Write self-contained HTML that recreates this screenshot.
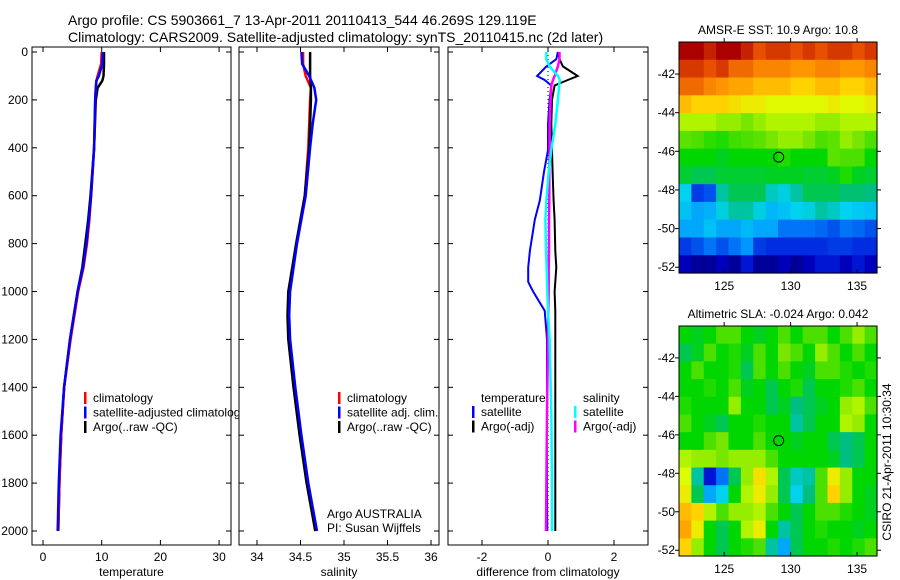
<!DOCTYPE html>
<html><head><meta charset="utf-8">
<style>
html,body{margin:0;padding:0;background:#fff;}
svg{display:block;font-family:"Liberation Sans",sans-serif;}
text{fill:#000;}
</style></head>
<body>
<svg id="fig" width="900" height="580" viewBox="0 0 900 580" xmlns="http://www.w3.org/2000/svg">
<text x="68" y="25" font-size="14">Argo profile: CS 5903661_7 13-Apr-2011 20110413_544 46.269S 129.119E</text>
<text x="68" y="42" font-size="14">Climatology: CARS2009. Satellite-adjusted climatology: synTS_20110415.nc (2d later)</text>
<g id="layers"></g>
</svg>
<script>
// ---------- data ----------
const tDepth = [0,50,100,120,150,200,400,600,700,800,900,1000,1200,1400,1600,1800,2000];
const tClim  = [10.0,9.9,9.3,9.1,9.0,8.9,8.7,8.2,7.9,7.5,6.9,6.0,4.7,3.6,3.1,2.8,2.6];
const tSat   = [10.2,10.1,9.5,9.1,9.0,8.9,8.7,8.2,7.8,7.4,6.8,5.9,4.6,3.6,3.0,2.7,2.5];
const tArgo  = [10.4,10.4,10.3,10.1,9.3,9.0,8.7,8.1,7.7,7.2,6.7,5.9,4.6,3.6,3.1,2.8,2.6];
const sDepth = [0,50,100,150,200,300,400,600,800,1000,1100,1200,1400,1600,1800,2000];
const sClim  = [34.53,34.53,34.56,34.62,34.61,34.60,34.59,34.55,34.45,34.37,34.36,34.37,34.43,34.50,34.58,34.67];
const sSat   = [34.51,34.52,34.60,34.66,34.68,34.64,34.61,34.56,34.46,34.38,34.37,34.38,34.44,34.51,34.59,34.69];
const sArgo  = [34.61,34.61,34.61,34.62,34.62,34.61,34.60,34.55,34.45,34.36,34.35,34.36,34.42,34.49,34.57,34.67];
const dDepth = [0,30,60,100,117,140,200,300,410,500,620,700,830,900,960,1000,1080,1200,1500,1800,2000];
const dTSat  = [0.30,0.25,-0.05,-0.33,-0.10,0.10,0.05,0.00,0.00,-0.12,-0.25,-0.40,-0.55,-0.60,-0.60,-0.45,-0.10,-0.03,-0.03,-0.03,-0.02];
const dTArgo = [0.30,0.35,0.45,0.90,0.60,0.20,0.12,0.10,0.12,0.14,0.17,0.20,0.22,0.25,0.22,0.20,0.22,0.22,0.22,0.22,0.22];
const dSSat  = [-0.05,-0.05,0.05,0.30,0.36,0.34,0.30,0.22,0.10,0.02,-0.05,-0.08,-0.06,-0.04,-0.03,-0.02,0.00,0.05,0.10,0.12,0.12];
const dSArgo = [0.35,0.35,0.30,0.20,0.15,0.10,0.08,0.05,0.05,0.04,0.04,0.03,0.03,0.02,0.02,0.02,0.01,0.00,-0.03,-0.05,-0.06];
const depthTicks = [0,200,400,600,800,1000,1200,1400,1600,1800,2000];
const tTicks = [0,10,20,30];
const sTicks = [34,34.5,35,35.5,36];
const dTicks = [-2,0,2];
const lonTicks = [125,130,135];
const latTicks = [-42,-44,-46,-48,-50,-52];
const argoLon = 129.1, argoLat = -46.3;
const sstGrid = [
[.95,.95,.92,.95,.95,.92,.88,.9,.9,.88,.9,.88,.9,.9,.88,.9],
[.9,.9,.88,.9,.85,.85,.82,.82,.82,.8,.8,.82,.82,.8,.8,.82],
[.85,.85,.82,.8,.78,.78,.75,.75,.75,.72,.72,.75,.75,.72,.72,.75],
[.75,.72,.72,.72,.7,.68,.68,.66,.66,.66,.66,.66,.68,.66,.66,.68],
[.62,.62,.62,.6,.6,.58,.6,.62,.62,.62,.62,.6,.6,.62,.62,.62],
[.56,.55,.53,.52,.54,.55,.56,.58,.6,.6,.58,.55,.56,.6,.58,.55],
[.5,.5,.5,.48,.5,.5,.5,.5,.52,.5,.5,.5,.56,.55,.55,.5],
[.47,.45,.45,.47,.47,.47,.47,.48,.48,.48,.47,.47,.48,.52,.48,.47],
[.35,.2,.22,.4,.45,.45,.45,.38,.36,.4,.45,.45,.45,.43,.43,.42],
[.33,.3,.31,.36,.4,.4,.36,.32,.33,.35,.36,.4,.38,.35,.34,.33],
[.3,.3,.33,.3,.3,.32,.3,.3,.25,.25,.25,.24,.22,.25,.24,.22],
[.2,.22,.25,.22,.25,.28,.2,.18,.18,.18,.18,.18,.2,.2,.18,.18],
[.1,.05,.05,.1,.05,.15,.05,.05,.1,.05,.1,.15,.15,.1,.15,.1]];
const slaGrid = [
[.5,.48,.5,.55,.55,.5,.48,.5,.55,.5,.55,.55,.5,.55,.6,.55],
[.45,.48,.55,.5,.52,.48,.55,.5,.58,.55,.5,.6,.55,.5,.55,.5],
[.5,.55,.5,.5,.52,.45,.55,.5,.55,.5,.48,.55,.55,.52,.5,.52],
[.5,.5,.52,.5,.55,.48,.5,.45,.5,.52,.45,.5,.5,.52,.55,.5],
[.52,.5,.5,.5,.6,.5,.5,.45,.48,.42,.45,.48,.5,.6,.62,.55],
[.55,.5,.48,.45,.5,.5,.52,.5,.5,.4,.45,.5,.5,.62,.6,.5],
[.5,.5,.55,.58,.5,.5,.55,.5,.5,.48,.5,.5,.45,.42,.45,.5],
[.62,.6,.6,.58,.6,.6,.6,.55,.5,.5,.5,.5,.48,.42,.45,.5],
[.65,.4,.15,.25,.45,.6,.7,.62,.45,.38,.4,.55,.68,.6,.5,.5],
[.68,.45,.3,.35,.5,.62,.68,.6,.45,.35,.42,.55,.72,.6,.5,.48],
[.75,.72,.62,.55,.6,.6,.62,.55,.5,.45,.5,.55,.55,.52,.5,.48],
[.78,.68,.5,.45,.5,.62,.68,.5,.4,.45,.5,.52,.5,.5,.48,.5],
[.72,.6,.5,.45,.5,.52,.55,.4,.3,.45,.5,.5,.52,.5,.52,.55]];

// ---------- helpers ----------
const NS = "http://www.w3.org/2000/svg";
const root = document.getElementById('layers');
function mk(tag, attrs, parent){ const e=document.createElementNS(NS,tag); for(const k in attrs) e.setAttribute(k,attrs[k]); (parent||root).appendChild(e); return e; }
function txt(x,y,s,size,anchor,parent){ const t=mk('text',{x:x,y:y,'font-size':size||12,'text-anchor':anchor||'middle'},parent); t.textContent=s; return t; }
const yTop=52, yPx=0.2395, pTop=47, pBot=545;
const yD = d => yTop + d*yPx;
const xT = v => 43 + v*5.87;
const xS = v => 257 + (v-34)*87;
const xDf = v => 548 + v*33;

function panel(name,x0,x1,ticks,fx,fmt,label,showY){
  const g=mk('g',{});
  
  
  const r=mk('rect',{x:x0,y:pTop,width:x1-x0,height:pBot-pTop,fill:'#fff',stroke:'#000','stroke-width':1},g);
  
  
  ticks.forEach(v=>{
    const x=fx(v);
    mk('line',{x1:x,x2:x,y1:pBot,y2:pBot-5,stroke:'#000'},g);
    mk('line',{x1:x,x2:x,y1:pTop,y2:pTop+5,stroke:'#000'},g);
    const t=txt(x,pBot+16,fmt(v),12,'middle',g);
    
    
  });
  depthTicks.forEach(d=>{
    const y=yD(d);
    mk('line',{x1:x0,x2:x0+5,y1:y,y2:y,stroke:'#000'},g);
    mk('line',{x1:x1,x2:x1-5,y1:y,y2:y,stroke:'#000'},g);
    if(showY){ const t=txt(x0-4,y+4,String(d),12,'end',g);
      
       }
  });
  const xl=txt((x0+x1)/2,pBot+31,label,12,'middle',g);
  
  
  return g;
}
function line(g,name,depths,vals,fx,color,w){
  const pts=depths.map((d,i)=>fx(vals[i]).toFixed(1)+','+yD(d).toFixed(1)).join(' ');
  const p=mk('polyline',{points:pts,fill:'none',stroke:color,'stroke-width':w||2.5},g);
  
  
}
function legend(g,x,y,items){
  items.forEach((it,i)=>{
    const yy=y+i*14.5;
    mk('rect',{x:x,y:yy-10,width:2.5,height:12,fill:it[1]},g);
    const t=txt(x+9,yy,it[0],12,'start',g);
    
    
  });
}

// Temperature panel
const g1=panel('temperature-panel',32,231,tTicks,xT,String,'temperature',true);
line(g1,'temp-argo-line',tDepth,tArgo,xT,'#000');
line(g1,'temp-clim-line',tDepth,tClim,xT,'#f00');
line(g1,'temp-sat-line',tDepth,tSat,xT,'#00f');
legend(g1,84,402,[['climatology','#f00'],['satellite-adjusted climatology','#00f'],['Argo(..raw -QC)','#000']]);

// Salinity panel
const g2=panel('salinity-panel',239,439,sTicks,xS,String,'salinity',false);
line(g2,'sal-clim-line',sDepth,sClim,xS,'#f00');
line(g2,'sal-argo-line',sDepth,sArgo,xS,'#000');
line(g2,'sal-sat-line',sDepth,sSat,xS,'#00f');
legend(g2,338,402,[['climatology','#f00'],['satellite adj. clim.','#00f'],['Argo(..raw -QC)','#000']]);
const a1=txt(327,518,'Argo AUSTRALIA',12,'start',g2);


const a2=txt(327,532,'PI: Susan Wijffels',12,'start',g2);



// Difference panel
const g3=panel('difference-panel',448,648,dTicks,xDf,String,'difference from climatology',false);
mk('line',{x1:xDf(0),x2:xDf(0),y1:pTop,y2:yD(2000),stroke:'#000','stroke-dasharray':'1,3'},g3);
line(g3,'diff-temp-argo-line',dDepth,dTArgo,xDf,'#000',2);
line(g3,'diff-temp-sat-line',dDepth,dTSat,xDf,'#00f',2);
line(g3,'diff-sal-argo-line',dDepth,dSArgo,xDf,'#f0f',2.5);
line(g3,'diff-sal-sat-line',dDepth,dSSat,xDf,'#0ff',2.5);
const lt=txt(481,402,'temperature',12,'start',g3);


const ls=txt(583,402,'salinity',12,'start',g3);


legend(g3,472,416,[['satellite','#00f'],['Argo(-adj)','#000']]);
legend(g3,574,416,[['satellite','#0ff'],['Argo(-adj)','#f0f']]);

// ---------- maps ----------
const cmapStops=[[0,0,0,120],[.12,0,0,200],[.2,0,60,230],[.28,0,150,255],[.35,0,210,240],[.42,0,190,130],[.5,0,215,0],[.58,120,230,0],[.65,220,255,0],[.72,255,210,0],[.8,255,150,0],[.88,230,80,0],[.95,170,0,0],[1,130,0,0]];
function jet(v){
  v=Math.max(0,Math.min(1,v));
  for(let i=1;i<cmapStops.length;i++){
    const a=cmapStops[i-1], b=cmapStops[i];
    if(v<=b[0]){ const f=(v-a[0])/(b[0]-a[0]);
      return 'rgb('+[1,2,3].map(k=>Math.round(a[k]+(b[k]-a[k])*f)).join(',')+')'; }
  }
  return 'rgb(130,0,0)';
}
const mx0=679,mx1=877, lon0=121.6, lon1=136.5;
const mLon = v => mx0 + (v-lon0)/(lon1-lon0)*(mx1-mx0);
function map(name,top,bot,grid,title){
  const g=mk('g',{});
  
  
  const lat0=-40.34, lat1=-52.3;
  const mLat = v => top + (v-lat0)/(lat1-lat0)*(bot-top);
  const rows=grid.length, cols=grid[0].length;
  const cw=(mx1-mx0)/cols, ch=(bot-top)/rows;
  grid.forEach((row,i)=>row.forEach((v,j)=>{
    const c=mk('rect',{x:(mx0+j*cw).toFixed(2),y:(top+i*ch).toFixed(2),width:(cw+0.6).toFixed(2),height:(ch+0.6).toFixed(2),fill:jet(v)},g);
    
    
  }));
  mk('rect',{x:mx0,y:top,width:mx1-mx0,height:bot-top,fill:'none',stroke:'#000'},g);
  lonTicks.forEach(v=>{
    const x=mLon(v);
    mk('line',{x1:x,x2:x,y1:bot,y2:bot-4,stroke:'#000'},g);
    mk('line',{x1:x,x2:x,y1:top,y2:top-4,stroke:'#000'},g);
    const t=txt(x,bot+17,String(v),12,'middle',g);
    
    
  });
  latTicks.forEach(v=>{
    const y=mLat(v);
    mk('line',{x1:mx0,x2:mx0-4,y1:y,y2:y,stroke:'#000'},g);
    mk('line',{x1:mx1,x2:mx1+4,y1:y,y2:y,stroke:'#000'},g);
    const t=txt(mx0-4,y+4,String(v),12,'end',g);
    
    
  });
  const c=mk('circle',{cx:mLon(argoLon),cy:mLat(argoLat),r:5,fill:'none',stroke:'#000'},g);
  
  
  const t=txt((mx0+mx1)/2,top-8,title,12,'middle',g);
  
  
}
map('sst-map',42,273,sstGrid,'AMSR-E SST: 10.9 Argo: 10.8');
map('sla-map',326,556,slaGrid,'Altimetric SLA: -0.024 Argo: 0.042');
const stamp=txt(0,0,'CSIRO 21-Apr-2011 10:30:34',12,'middle');
stamp.setAttribute('transform','translate(891,462) rotate(-90)');


</script>
</body></html>
